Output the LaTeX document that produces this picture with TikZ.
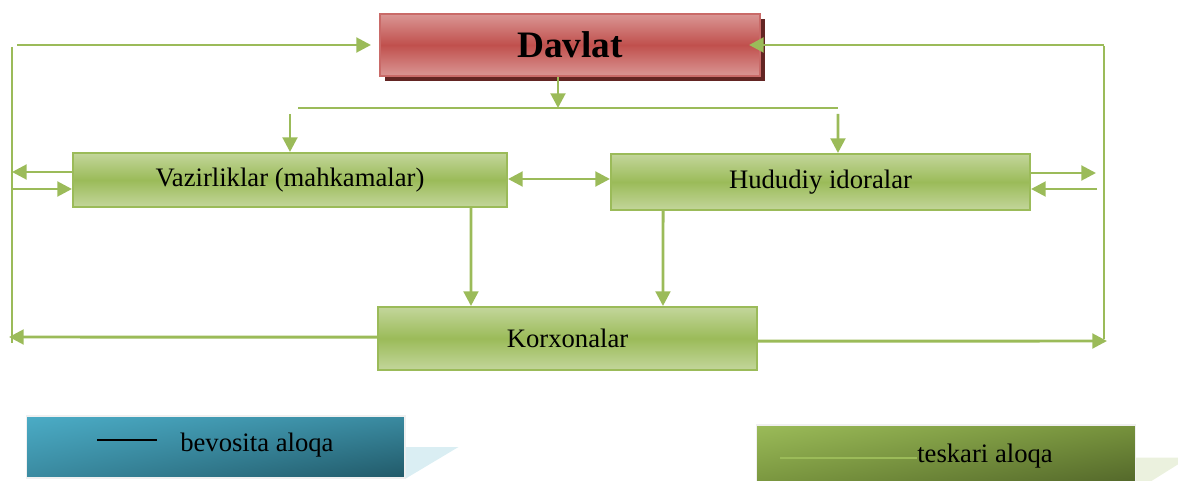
\documentclass[tikz,border=0pt]{standalone}
\usepackage{fontspec}
\setmainfont{Liberation Serif}
\usetikzlibrary{arrows.meta,shadows,shadings}
\definecolor{linkgreen}{HTML}{9BBB59}
\definecolor{boxlight}{HTML}{C3D69B}
\definecolor{redmid}{HTML}{C0504D}
\definecolor{redlight}{HTML}{DA9694}
\definecolor{shadowred}{HTML}{632523}
\definecolor{tealA}{HTML}{4BACC6}
\definecolor{tealB}{HTML}{3A8AA0}
\definecolor{tealC}{HTML}{215968}
\definecolor{oliveB}{HTML}{76923C}
\definecolor{oliveC}{HTML}{4F6228}
\definecolor{paleblue}{HTML}{DAEEF3}
\definecolor{palegreen}{HTML}{EBF1DE}

\begin{document}
\begin{tikzpicture}[x=0.75pt,y=-0.75pt,
  line/.style={line width=2.2pt,draw=linkgreen},
  link/.style={line,-{Triangle[length=11pt,width=11pt]}},
  greenbox/.style={draw=linkgreen,line width=1.5pt,top color=boxlight,bottom color=boxlight,middle color=linkgreen,font=\fontsize{20}{24}\selectfont},
  redbox/.style={draw=redmid!85!white,line width=1.5pt,top color=redlight,bottom color=redlight,middle color=redmid,
    drop shadow={shadow xshift=4pt,shadow yshift=-4pt,fill=shadowred,opacity=1},font=\fontsize{28}{32}\selectfont\bfseries},
  legbox/.style={draw=gray!12,line width=1pt,minimum width=284pt,inner sep=0pt},
  legtext/.style={inner sep=0pt,anchor=base west,font=\fontsize{20}{24}\selectfont}]
\clip (0,0) rectangle (1178,481);
% boxes
\node[redbox,minimum width=285pt,minimum height=46.5pt] (davlat) at (570,45) {Davlat};
\node[greenbox,minimum width=325.5pt,minimum height=40.5pt] (vaz) at (290,180) {Vazirliklar (mahkamalar)};
\node[greenbox,minimum width=314.25pt,minimum height=42pt] (hud) at (820.5,182) {Hududiy idoralar};
\node[greenbox,minimum width=284.25pt,minimum height=47.25pt] (korx) at (567.5,338.5) {Korxonalar};
% free ends
\coordinate (split) at (558,108);
\coordinate (splitl) at (298,108);
\coordinate (splitr) at (838,108);
\coordinate (vazin) at (290,114);
\coordinate (hudin) at (838,114);
\coordinate (lt) at (17,45);
\coordinate (lv1) at (12,47);
\coordinate (lv2) at (12,343);
\coordinate (lvaza) at (12,172);
\coordinate (lvazb) at (13,189);
\coordinate (lkor) at (9,337);
\coordinate (rt) at (1104,45);
\coordinate (rv1) at (1104,46);
\coordinate (rv2) at (1104,339);
\coordinate (rhuda) at (1096,173);
\coordinate (rhudb) at (1097,189);
\coordinate (rkor) at (1107,341);
% direct links
\draw[link] ([xshift=-9pt]davlat.south) -- (split);
\draw[line] (splitl) -- (splitr);
\draw[link] (vazin) -- (vaz.north);
\draw[link] (hudin) -- ([xshift=13.1pt]hud.north);
\draw[line,{Triangle[length=11pt,width=11pt]}-{Triangle[length=11pt,width=11pt]}] ([yshift=0.75pt]vaz.east) -- ([yshift=2.25pt]hud.west);
\draw[link] ([xshift=135.75pt]vaz.south) -- ([xshift=-72.4pt]korx.north);
\draw[link] ([xshift=-118.1pt]hud.south) -- ([xshift=71.6pt]korx.north);
% left feedback loop
\draw[line] (lv1) -- (lv2);
\draw[link,shorten >=6pt] (lt) -- (davlat.west);
\draw[link] ([yshift=6pt]vaz.west) -- (lvaza);
\draw[link] (lvazb) -- ([yshift=-6.75pt]vaz.west);
\draw[link] ([yshift=1pt]korx.west) -- (lkor);
% right feedback loop
\draw[line] (rv1) -- (rv2);
\draw[link,shorten >=-9pt] (rt) -- (davlat.east);
\draw[link] ([yshift=6.75pt]hud.east) -- (rhuda);
\draw[link] (rhudb) -- ([yshift=-5.25pt]hud.east);
\draw[link] ([yshift=-2pt]korx.east) -- (rkor);
% legend
\node[legbox,minimum height=46.5pt,upper left=tealA,upper right=tealB,lower left=tealB,lower right=tealC] (legdir) at (215.5,447) {};
\fill[paleblue] (legdir.east) -- ++(53,0) -- (legdir.south east) -- cycle;
\node[legtext] (legdirtxt) at (180,451) {bevosita aloqa};
\coordinate (ldl) at (97,440);
\coordinate (ldr) at (157,440);
\draw[black,line width=0.9pt] (ldl) -- (ldr);
\node[legbox,minimum height=48.75pt,upper left=linkgreen,upper right=oliveB,lower left=oliveB,lower right=oliveC] (legfb) at (946,457.5) {};
\fill[palegreen] (legfb.east) -- ++(53,0) -- (legfb.south east) -- cycle;
\node[legtext] (legfbtxt) at (917,462) {teskari aloqa};
\coordinate (lfl) at (780,458);
\draw[line,line width=1.5pt] (lfl) -- (legfbtxt.west |- lfl);
\end{tikzpicture}
\end{document}
